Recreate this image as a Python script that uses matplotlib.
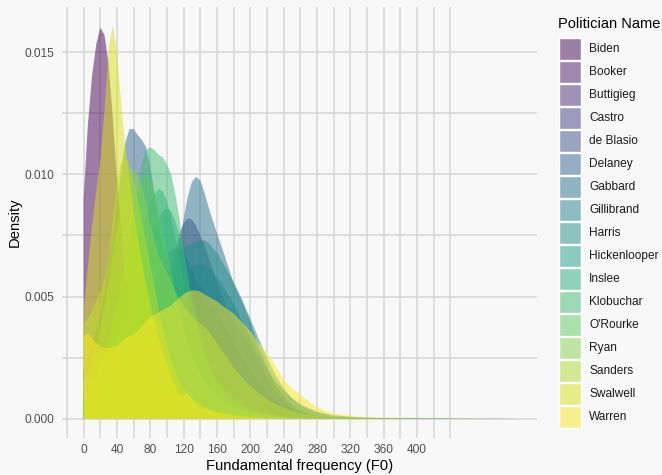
import numpy as np
import matplotlib
matplotlib.use("Agg")
import matplotlib.pyplot as plt
from matplotlib.patches import Rectangle

plt.rcParams["font.family"] = ["Liberation Sans", "DejaVu Sans"]

# F0 grid (Hz) at which each politician's density is given
f0 = [0, 5, 10, 15, 20, 25, 30, 35, 40, 45, 50, 55, 60, 65, 70, 75, 80, 85, 90, 95,
      100, 105, 110, 115, 120, 125, 130, 135, 140, 145, 150, 155, 160,
      170, 180, 190, 200, 210, 220, 230, 240, 250, 260,
      280, 300, 330, 360, 400, 450, 520]

politicians = ["Biden", "Booker", "Buttigieg", "Castro", "de Blasio", "Delaney",
               "Gabbard", "Gillibrand", "Harris", "Hickenlooper", "Inslee",
               "Klobuchar", "O'Rourke", "Ryan", "Sanders", "Swalwell", "Warren"]

# densities in units of 1e-3
biden = [9.0, 12.0, 14.0, 15.3, 16.0, 15.7, 14.5, 12.3, 9.8, 7.8, 6.0, 4.8, 3.8, 3.1, 2.6,
         2.2, 1.9, 1.7, 1.5, 1.3, 1.2, 1.1, 1.0, 0.9, 0.85, 0.8, 0.75, 0.7, 0.65, 0.6,
         0.55, 0.5, 0.45,
         0.38, 0.3, 0.24, 0.18, 0.14, 0.1, 0.07, 0.05, 0.04, 0.03,
         0.02, 0.01, 0.005, 0.003, 0.002, 0.001, 0]
booker = [0.8, 0.9, 1.0, 1.1, 1.25, 1.4, 1.55, 1.7, 1.9, 2.1, 2.3, 2.5, 2.7, 2.9, 3.1,
          3.25, 3.4, 3.5, 3.55, 3.6, 3.6, 3.55, 3.5, 3.4, 3.3, 3.15, 3.0, 2.85, 2.7, 2.5,
          2.35, 2.2, 2.05,
          1.75, 1.45, 1.2, 0.95, 0.75, 0.58, 0.44, 0.33, 0.25, 0.18,
          0.1, 0.05, 0.02, 0.01, 0.005, 0.002, 0]
buttigieg = [0.2, 0.22, 0.25, 0.3, 0.35, 0.4, 0.47, 0.55, 0.65, 0.77, 0.9, 1.05, 1.25, 1.45, 1.7,
             2.0, 2.3, 2.65, 3.0, 3.4, 3.8, 4.2, 4.6, 4.95, 5.25, 5.45, 5.55, 5.55, 5.45, 5.25,
             5.0, 4.7, 4.4,
             3.75, 3.1, 2.5, 1.95, 1.5, 1.1, 0.8, 0.55, 0.38, 0.26,
             0.12, 0.05, 0.02, 0.008, 0.003, 0.001, 0]
castro = [0.1, 0.1, 0.12, 0.15, 0.18, 0.22, 0.27, 0.33, 0.4, 0.5, 0.6, 0.75, 0.9, 1.1, 1.35,
          1.65, 2.0, 2.5, 3.1, 3.8, 4.7, 5.8, 6.9, 7.6, 8.0, 8.2, 8.15, 7.9, 7.5, 7.1,
          6.6, 6.1, 5.6,
          4.7, 4.0, 3.5, 3.0, 2.4, 1.7, 1.1, 0.7, 0.45, 0.3,
          0.12, 0.05, 0.02, 0.008, 0.003, 0.001, 0]
de_blasio = [0.3, 0.35, 0.4, 0.5, 0.6, 0.75, 0.9, 1.1, 1.35, 1.65, 2.0, 2.4, 2.9, 3.4, 3.95,
             4.5, 5.0, 5.5, 5.95, 6.35, 6.7, 6.9, 7.0, 6.95, 6.8, 6.5, 6.1, 5.65, 5.15, 4.65,
             4.15, 3.7, 3.25,
             2.5, 1.85, 1.35, 0.95, 0.65, 0.45, 0.3, 0.2, 0.13, 0.09,
             0.04, 0.02, 0.008, 0.003, 0.001, 0, 0]
delaney = [2.0, 2.5, 3.0, 3.6, 4.3, 5.2, 6.3, 7.5, 8.8, 10.2, 11.3, 11.85, 11.85, 11.6, 11.4,
           11.1, 10.3, 9.2, 8.0, 6.9, 5.9, 5.1, 4.4, 3.8, 3.3, 2.9, 2.6, 2.3, 2.0, 1.8,
           1.6, 1.4, 1.25,
           1.0, 0.8, 0.6, 0.45, 0.33, 0.24, 0.17, 0.12, 0.08, 0.06,
           0.03, 0.02, 0.01, 0.005, 0.002, 0.001, 0]
gabbard = [0.1, 0.12, 0.15, 0.18, 0.22, 0.27, 0.33, 0.4, 0.5, 0.6, 0.75, 0.9, 1.1, 1.35, 1.65,
           2.0, 2.4, 2.9, 3.4, 4.0, 4.6, 5.2, 6.0, 7.1, 8.2, 9.1, 9.7, 9.9, 9.75, 9.25,
           8.65, 8.1, 7.6,
           6.6, 5.55, 4.8, 4.0, 2.95, 2.1, 1.4, 0.9, 0.55, 0.33,
           0.12, 0.05, 0.02, 0.01, 0.004, 0.002, 0]
gillibrand = [0.15, 0.18, 0.22, 0.26, 0.3, 0.36, 0.43, 0.52, 0.62, 0.75, 0.9, 1.08, 1.3, 1.55, 1.85,
              2.2, 2.6, 3.0, 3.45, 3.9, 4.35, 4.8, 5.2, 5.55, 5.85, 6.05, 6.2, 6.28, 6.3, 6.25,
              6.15, 6.0, 5.8,
              5.3, 4.7, 4.0, 3.3, 2.65, 2.05, 1.55, 1.15, 0.85, 0.6,
              0.3, 0.15, 0.06, 0.03, 0.015, 0.005, 0]
harris = [0.2, 0.25, 0.3, 0.35, 0.4, 0.5, 0.6, 0.75, 0.9, 1.1, 1.35, 1.65, 2.0, 2.4, 2.85,
          3.3, 3.8, 4.3, 4.8, 5.3, 5.8, 6.2, 6.5, 6.8, 7.0, 7.1, 7.2, 7.25, 7.3, 7.3,
          7.2, 7.0, 6.8,
          6.2, 5.6, 4.9, 4.1, 3.3, 2.5, 1.8, 1.25, 0.85, 0.55,
          0.25, 0.11, 0.05, 0.03, 0.015, 0.005, 0]
hickenlooper = [0.3, 0.4, 0.5, 0.6, 0.8, 1.0, 1.3, 1.6, 2.0, 2.5, 3.0, 3.6, 4.3, 5.0, 5.7,
                6.4, 7.1, 7.7, 8.2, 8.5, 8.6, 8.5, 8.1, 7.5, 6.8, 6.0, 5.2, 4.5, 3.8, 3.2,
                2.7, 2.3, 1.9,
                1.35, 0.95, 0.65, 0.45, 0.32, 0.22, 0.15, 0.1, 0.07, 0.05,
                0.025, 0.012, 0.005, 0.002, 0.001, 0, 0]
inslee = [0.5, 0.6, 0.8, 1.0, 1.3, 1.6, 2.0, 2.5, 3.1, 3.8, 4.6, 5.4, 6.2, 7.0, 7.7,
          8.3, 8.8, 9.2, 9.4, 9.3, 8.9, 8.2, 7.4, 6.5, 5.6, 4.8, 4.1, 3.5, 3.0, 2.6,
          2.2, 1.9, 1.6,
          1.2, 0.85, 0.6, 0.42, 0.3, 0.21, 0.15, 0.1, 0.07, 0.05,
          0.03, 0.015, 0.007, 0.003, 0.001, 0, 0]
klobuchar = [0.8, 1.0, 1.3, 1.6, 2.0, 2.5, 3.1, 3.8, 4.6, 5.5, 6.5, 7.5, 8.5, 9.5, 10.5,
             11.0, 11.1, 11.0, 10.8, 10.7, 10.4, 10.0, 9.2, 8.2, 6.9, 5.8, 4.8, 4.0, 3.3, 2.7,
             2.2, 1.8, 1.5,
             1.0, 0.7, 0.5, 0.35, 0.25, 0.18, 0.12, 0.08, 0.05, 0.04,
             0.02, 0.01, 0.005, 0.002, 0.001, 0, 0]
orourke = [1.0, 1.2, 1.5, 1.8, 2.2, 2.7, 3.3, 4.0, 4.8, 5.7, 6.6, 7.5, 8.4, 9.2, 9.8,
           10.0, 9.8, 9.3, 8.6, 7.8, 6.9, 6.0, 5.2, 4.4, 3.7, 3.1, 2.6, 2.2, 1.85, 1.55,
           1.3, 1.1, 0.93,
           0.67, 0.48, 0.34, 0.24, 0.17, 0.12, 0.08, 0.06, 0.04, 0.03,
           0.015, 0.007, 0.003, 0.001, 0, 0, 0]
ryan = [1.5, 1.9, 2.4, 3.0, 3.7, 4.6, 5.6, 6.7, 7.8, 8.8, 9.6, 10.1, 10.2, 10.0, 9.5,
        8.8, 8.0, 7.3, 6.7, 6.3, 6.0, 5.6, 5.2, 4.9, 4.6, 4.4, 4.2, 4.05, 3.9, 3.75,
        3.6, 3.35, 3.1,
        2.6, 2.1, 1.7, 1.35, 1.05, 0.8, 0.6, 0.45, 0.33, 0.24,
        0.12, 0.06, 0.02, 0.01, 0.004, 0.001, 0]
sanders = [3.9, 4.1, 4.4, 4.8, 5.2, 5.7, 6.5, 8.2, 9.7, 10.5, 10.7, 10.4, 9.8, 9.0, 8.1,
           7.2, 6.3, 5.4, 4.5, 3.7, 3.0, 2.4, 1.9, 1.5, 1.2, 1.0, 0.85, 0.7, 0.6, 0.5,
           0.42, 0.36, 0.3,
           0.22, 0.16, 0.12, 0.09, 0.06, 0.04, 0.03, 0.02, 0.015, 0.01,
           0.005, 0.002, 0.001, 0, 0, 0, 0]
swalwell = [4.5, 6.2, 7.9, 9.3, 10.6, 12.6, 15.2, 16.1, 15.0, 12.9, 11.2, 9.8, 8.5, 7.4, 6.4,
            5.5, 4.7, 4.0, 3.3, 2.7, 2.2, 1.7, 1.3, 1.0, 0.95, 1.05, 0.8, 0.6, 0.5, 0.42,
            0.36, 0.3, 0.26,
            0.19, 0.13, 0.09, 0.06, 0.04, 0.03, 0.02, 0.01, 0.01, 0.005,
            0.002, 0.001, 0, 0, 0, 0, 0]
warren = [3.4, 3.5, 3.3, 3.1, 2.95, 2.9, 2.9, 2.95, 3.0, 3.15, 3.3, 3.4, 3.45, 3.6, 3.8,
          4.0, 4.15, 4.25, 4.35, 4.45, 4.55, 4.65, 4.8, 4.95, 5.1, 5.2, 5.25, 5.25, 5.2, 5.1,
          5.0, 4.9, 4.8,
          4.55, 4.3, 3.95, 3.6, 3.1, 2.7, 2.2, 1.6, 1.25, 1.0,
          0.45, 0.22, 0.1, 0.05, 0.02, 0.01, 0]

densities = [biden, booker, buttigieg, castro, de_blasio, delaney, gabbard, gillibrand,
             harris, hickenlooper, inslee, klobuchar, orourke, ryan, sanders, swalwell, warren]
DENSITY_UNIT = 1e-3

x_breaks = list(range(0, 401, 40))
x_minor = [v for v in range(-20, 441, 20) if v not in x_breaks]
y_breaks = [0.0, 0.005, 0.010, 0.015]
y_minor = [0.0025, 0.0075, 0.0125]

BG = "#f8f8f8"
GRID = "#d9d9d9"
W, H = 662, 475

fig = plt.figure(figsize=(W / 100, H / 100), dpi=100, facecolor=BG)
ax = fig.add_axes([62 / W, 1 - 438 / H, 475 / W, 431 / H])
ax.set_facecolor(BG)
ax.set_xlim(-26, 544)
ax.set_ylim(-0.00078, 0.01684)

colors = plt.get_cmap("viridis")(np.linspace(0, 1, len(politicians)))
for dens, col in zip(densities, colors):
    ax.fill_between(f0, 0, np.asarray(dens) * DENSITY_UNIT, facecolor=col,
                    alpha=0.5, linewidth=0, zorder=2)

ax.set_xticks(x_breaks)
ax.set_xticks(x_minor, minor=True)
ax.set_yticks(y_breaks)
ax.set_yticks(y_minor, minor=True)
ax.set_xticklabels([str(v) for v in x_breaks])
ax.set_yticklabels([f"{v:.3f}" for v in y_breaks])
ax.set_axisbelow(True)
ax.grid(which="both", color=GRID, linewidth=1.25)
for s in ax.spines.values():
    s.set_visible(False)
ax.tick_params(which="both", length=0, labelsize=8.6, labelcolor="#4d4d4d")
ax.tick_params(axis="x", pad=4.5)
ax.tick_params(axis="y", pad=5.5)

fig.text(299.5 / W, 1 - 466 / H, "Fundamental frequency (F0)", ha="center",
         va="center", fontsize=10.6, color="black")
fig.text(15 / W, 1 - 222 / H, "Density", ha="center", va="center", rotation=90,
         fontsize=10.6, color="black")

# legend
fig.text(558 / W, 1 - 24 / H, "Politician Name", ha="left", va="center",
         fontsize=10.5, color="black")
key_top, key_step, key_w, key_h = 37.5, 23.06, 22, 22
for i, (name, col) in enumerate(zip(politicians, colors)):
    y0 = key_top + i * key_step
    rect = Rectangle((559 / W, 1 - (y0 + key_h) / H), key_w / W, key_h / H,
                     transform=fig.transFigure,
                     facecolor=(col[0], col[1], col[2], 0.5), edgecolor="white",
                     linewidth=1.0)
    fig.patches.append(rect)
    fig.text(589 / W, 1 - (y0 + key_h / 2) / H, name, ha="left", va="center",
             fontsize=8.6, color="#1a1a1a")

fig.savefig("out.png", dpi=100, facecolor=BG)
